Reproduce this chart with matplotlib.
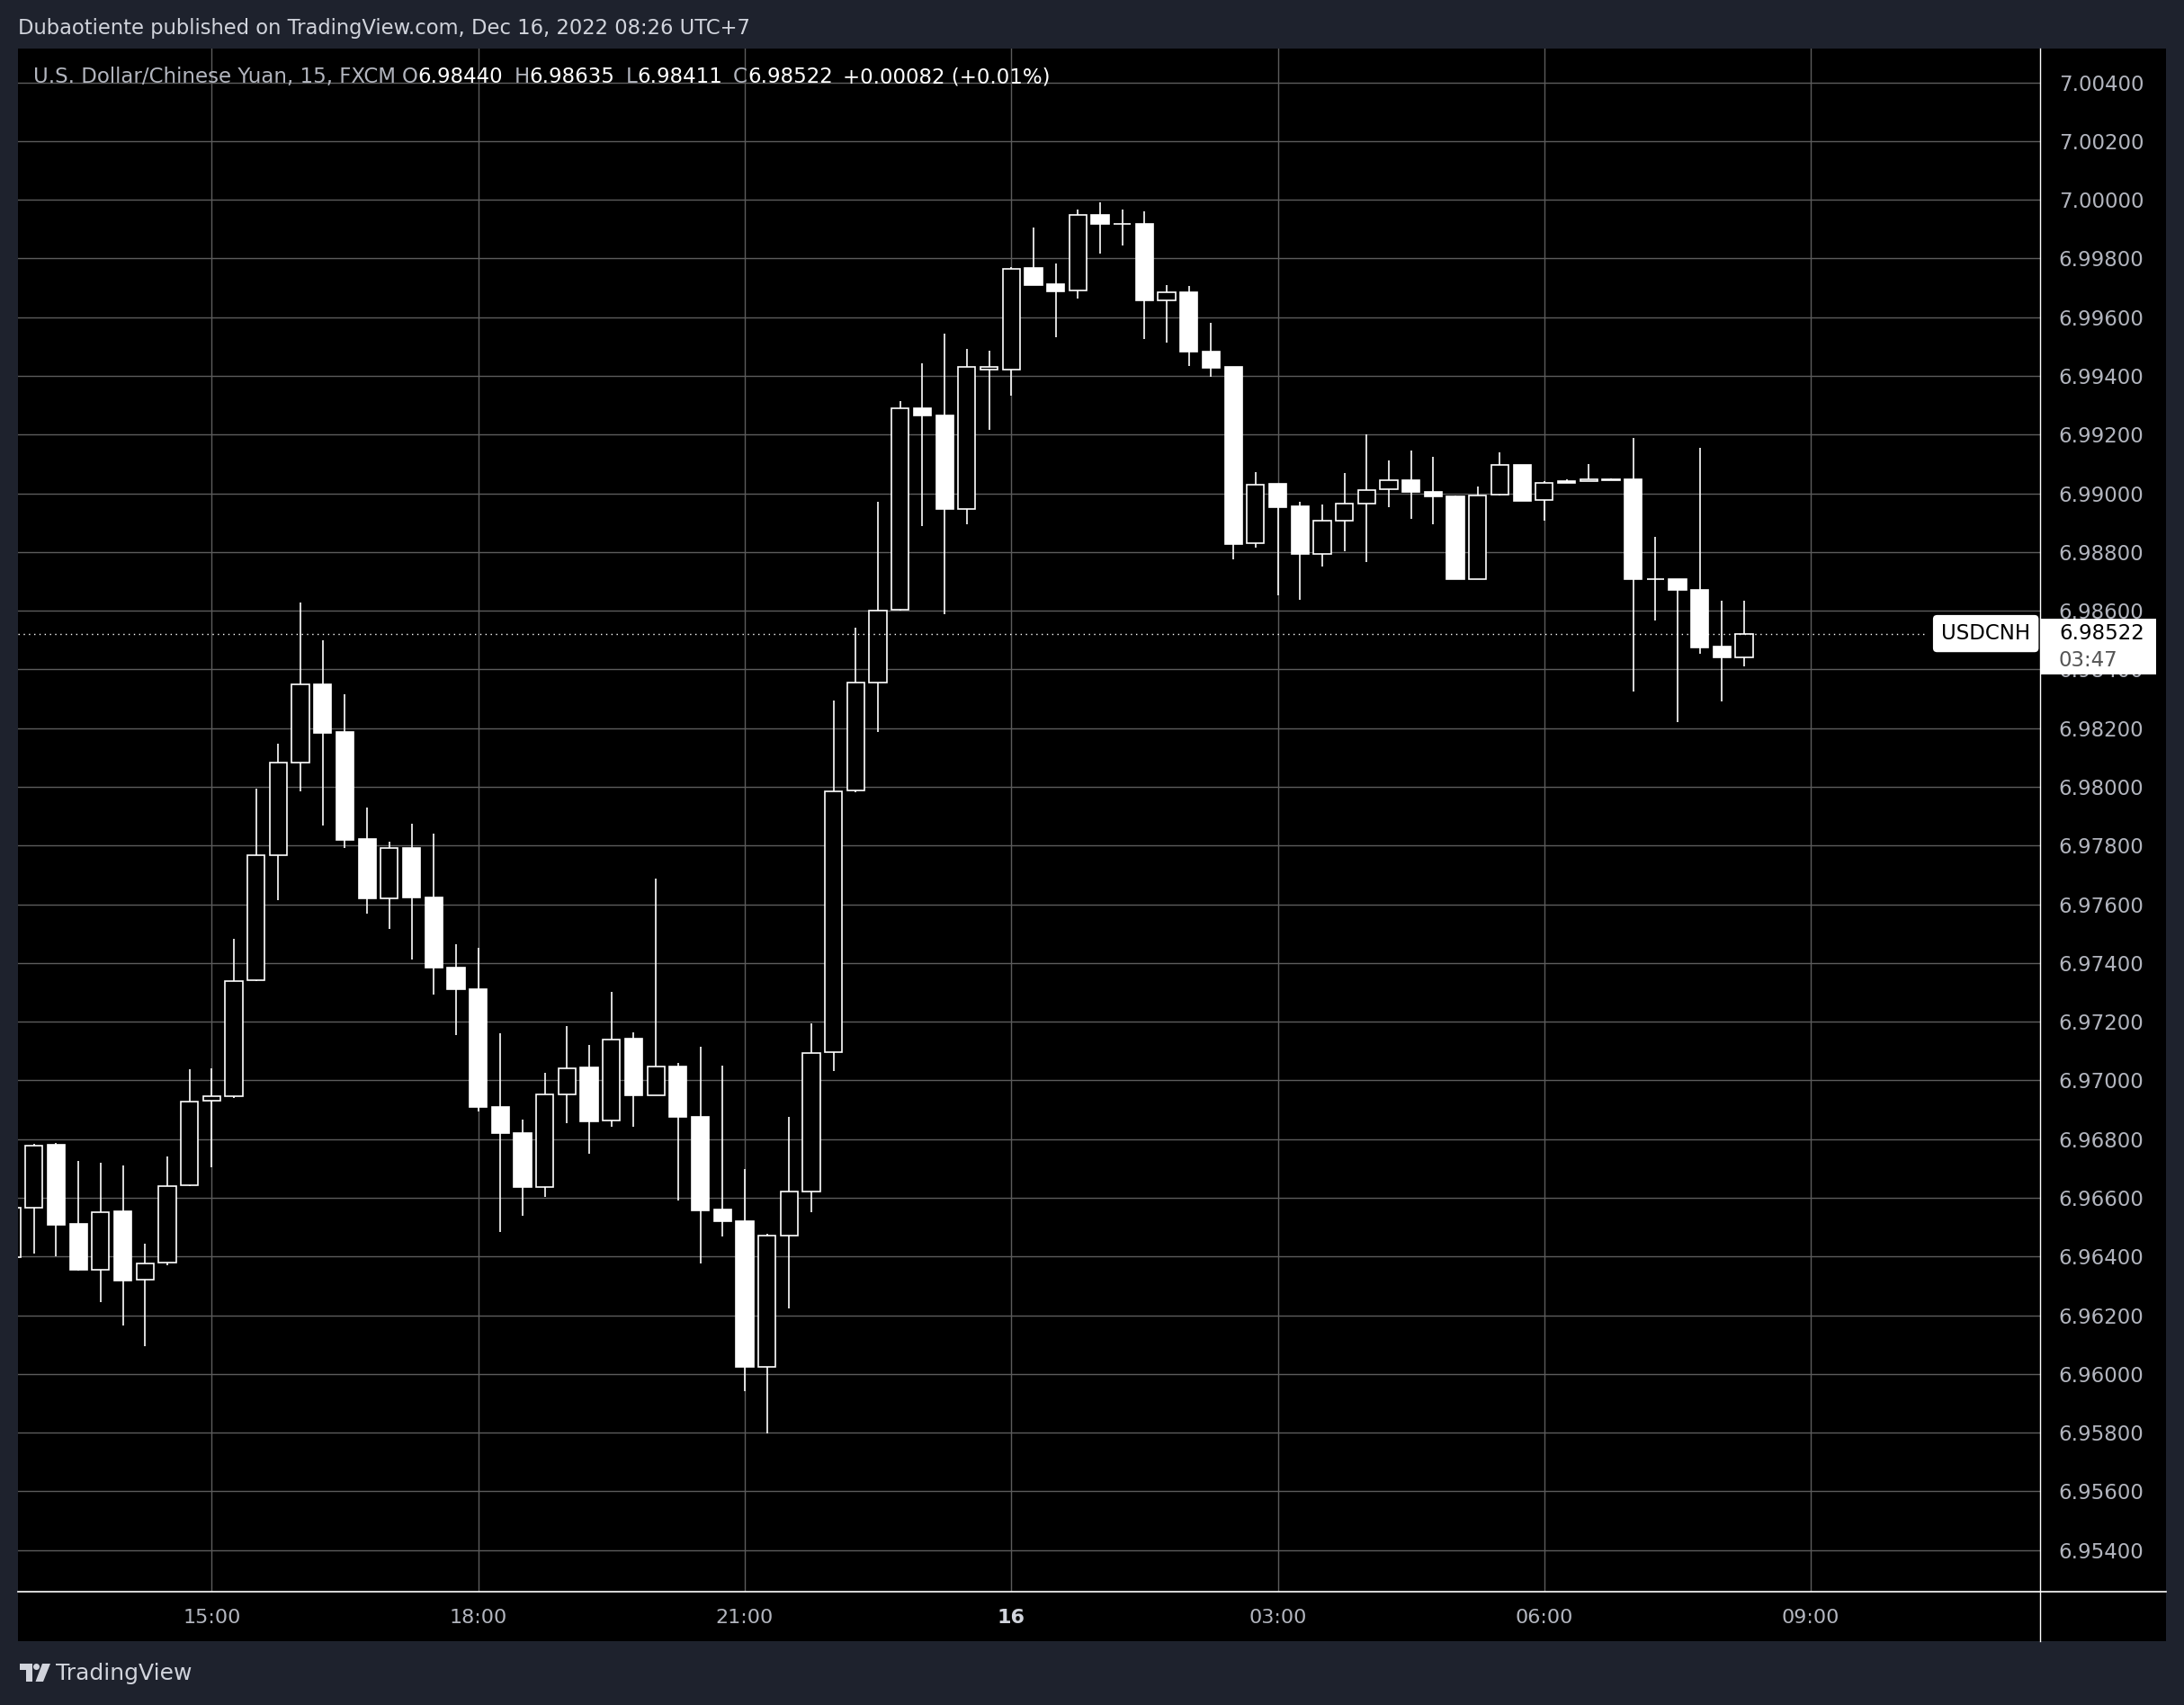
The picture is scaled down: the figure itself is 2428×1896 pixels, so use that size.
import matplotlib
matplotlib.use("Agg")
import matplotlib.pyplot as plt
import matplotlib.patches as patches
import matplotlib.transforms as mtransforms
import matplotlib.dates as mdates
import numpy as np
import pandas as pd

# USDCNH 15 min candles, Dec 15 12:45 -> Dec 16 08:15 (UTC+7)
times = pd.date_range("2022-12-15 12:45", periods=79, freq="15min")

opens = [6.96398,
         6.96565, 6.96780, 6.96511, 6.96356,
         6.96553, 6.96320, 6.96378, 6.96643,
         6.96931, 6.96945, 6.97340, 6.97766,
         6.98082, 6.98350, 6.98187, 6.97822,
         6.97620, 6.97790, 6.97622, 6.97385,
         6.97312, 6.96910, 6.96821, 6.96638,
         6.96953, 6.97043, 6.96862, 6.97143,
         6.96950, 6.97048, 6.96877, 6.96560,
         6.96521, 6.96024, 6.96472, 6.96621,
         6.97097, 6.97988, 6.98355, 6.98602,
         6.99289, 6.99264, 6.98947, 6.99420,
         6.99420, 6.99766, 6.99711, 6.99692,
         6.99949, 6.99917, 6.99918, 6.99658,
         6.99686, 6.99484, 6.99429, 6.98830,
         6.99031, 6.98955, 6.98794, 6.98907,
         6.98966, 6.99014, 6.99045, 6.99005,
         6.98990, 6.98709, 6.98994, 6.99098,
         6.98976, 6.99042, 6.99042, 6.99049,
         6.99049, 6.98707, 6.98709, 6.98672,
         6.98477, 6.98440]

highs = [6.96575,
         6.96783, 6.96786, 6.96725, 6.96719,
         6.96711, 6.96444, 6.96740, 6.97037,
         6.97040, 6.97483, 6.97993, 6.98146,
         6.98627, 6.98500, 6.98315, 6.97930,
         6.97813, 6.97875, 6.97842, 6.97465,
         6.97453, 6.97161, 6.96866, 6.97025,
         6.97184, 6.97122, 6.97301, 6.97163,
         6.97686, 6.97060, 6.97116, 6.97049,
         6.96699, 6.96478, 6.96875, 6.97193,
         6.98294, 6.98543, 6.98972, 6.99315,
         6.99443, 6.99544, 6.99492, 6.99485,
         6.99772, 6.99904, 6.99782, 6.99968,
         6.99990, 6.99968, 6.99959, 6.99708,
         6.99705, 6.99582, 6.99431, 6.99071,
         6.99033, 6.98970, 6.98961, 6.99069,
         6.99200, 6.99112, 6.99146, 6.99124,
         6.98992, 6.99024, 6.99138, 6.99098,
         6.99042, 6.99049, 6.99101, 6.99051,
         6.99190, 6.98850, 6.98709, 6.99156,
         6.98633, 6.98635]

lows = [6.96390,
        6.96410, 6.96402, 6.96352, 6.96245,
        6.96166, 6.96095, 6.96370, 6.96640,
        6.96704, 6.96940, 6.97338, 6.97614,
        6.97986, 6.97867, 6.97792, 6.97568,
        6.97516, 6.97412, 6.97292, 6.97155,
        6.96894, 6.96484, 6.96538, 6.96602,
        6.96855, 6.96751, 6.96842, 6.96842,
        6.96948, 6.96590, 6.96377, 6.96468,
        6.95940, 6.95798, 6.96222, 6.96550,
        6.97033, 6.97982, 6.98187, 6.98600,
        6.98887, 6.98588, 6.98894, 6.99216,
        6.99333, 6.99709, 6.99532, 6.99663,
        6.99816, 6.99844, 6.99526, 6.99513,
        6.99435, 6.99398, 6.98776, 6.98815,
        6.98651, 6.98638, 6.98751, 6.98802,
        6.98765, 6.98952, 6.98912, 6.98894,
        6.98707, 6.98707, 6.98992, 6.98973,
        6.98907, 6.99035, 6.99042, 6.99045,
        6.98324, 6.98566, 6.98220, 6.98453,
        6.98291, 6.98411]

closes = [6.96565,
          6.96779, 6.96509, 6.96356, 6.96552,
          6.96319, 6.96377, 6.96641, 6.96929,
          6.96945, 6.97337, 6.97766, 6.98082,
          6.98350, 6.98184, 6.97820, 6.97620,
          6.97790, 6.97622, 6.97384, 6.97311,
          6.96910, 6.96821, 6.96637, 6.96952,
          6.97040, 6.96860, 6.97140, 6.96949,
          6.97046, 6.96876, 6.96557, 6.96520,
          6.96023, 6.96471, 6.96620, 6.97094,
          6.97985, 6.98354, 6.98601, 6.99289,
          6.99264, 6.98946, 6.99429, 6.99431,
          6.99765, 6.99709, 6.99688, 6.99948,
          6.99917, 6.99919, 6.99657, 6.99685,
          6.99483, 6.99428, 6.98828, 6.99030,
          6.98953, 6.98792, 6.98908, 6.98964,
          6.99012, 6.99044, 6.99004, 6.98990,
          6.98707, 6.98992, 6.99096, 6.98973,
          6.99035, 6.99035, 6.99049, 6.99046,
          6.98707, 6.98708, 6.98670, 6.98474,
          6.98440, 6.98522]

tick_times = ["2022-12-15 15:00", "2022-12-15 18:00", "2022-12-15 21:00",
              "2022-12-16 00:00", "2022-12-16 03:00", "2022-12-16 06:00",
              "2022-12-16 09:00"]
tick_labels = ["15:00", "18:00", "21:00", "16", "03:00", "06:00", "09:00"]
price_ticks = np.arange(6.954, 7.0045, 0.002)

BG = "#1e222d"
TXT = "#b2b5be"
W, H = 2428, 1896


def frac(x0, y0, x1, y1):
    return [x0 / W, 1 - y1 / H, (x1 - x0) / W, (y1 - y0) / H]


fig = plt.figure(figsize=(W / 100, H / 100), dpi=100, facecolor=BG)

# background / decoration layer in pixel units
back = fig.add_axes(frac(0, 0, W, H), zorder=0)
back.set_xlim(0, W)
back.set_ylim(H, 0)
back.axis("off")
back.add_patch(patches.Rectangle((20, 54), 2388, 1771, fc="black", ec="none"))
back.text(20, 31, "Dubaotiente published on TradingView.com, Dec 16, 2022 08:26 UTC+7",
          color="#d1d4dc", fontsize=16.3, va="center", ha="left")

# TradingView logo (rough)
logo_c = "#d1d4dc"
back.add_patch(patches.Polygon([(22, 1850), (36, 1850), (36, 1870), (29, 1870),
                                (29, 1857), (22, 1857)], fc=logo_c, ec="none"))
back.add_patch(patches.Circle((40.5, 1853.5), 3.5, fc=logo_c, ec="none"))
back.add_patch(patches.Polygon([(47, 1850), (56, 1850), (48, 1870), (39.5, 1870)],
                               fc=logo_c, ec="none"))
back.text(62, 1861, "TradingView", color=logo_c, fontsize=18, va="center", ha="left")

# main price axes
ax = fig.add_axes(frac(20, 54, 2268, 1770), zorder=1)
ax.set_facecolor("black")
for s in ax.spines.values():
    s.set_visible(False)

x = mdates.date2num(times)
step = 1 / 96
t0 = mdates.date2num(pd.Timestamp("2022-12-15 15:00"))
ax.set_xlim(t0 - 8.72 * step, t0 + 82.32 * step)
ax.set_ylim(6.95258, 7.00515)

o = np.array(opens)
c = np.array(closes)
up = c >= o
bottoms = np.minimum(o, c)
heights = np.maximum(np.abs(c - o), 0.00002)
faces = np.where(up, "black", "white")

ax.vlines(x, lows, highs, color="white", lw=1.2, zorder=2)
ax.bar(x, heights, bottom=bottoms, width=0.78 * step, color=faces,
       edgecolor="white", linewidth=1.2, zorder=3)

# grid + ticks
ax.set_axisbelow(True)
ax.set_yticks(price_ticks)
ax.set_yticklabels([f"{p:.5f}" for p in price_ticks])
ax.yaxis.tick_right()
ax.set_xticks(mdates.date2num(pd.to_datetime(tick_times)))
ax.set_xticklabels(tick_labels)
ax.grid(True, color="#5c5c5c", lw=1.0)
ax.tick_params(axis="y", length=0, pad=15, labelsize=16.5, labelcolor=TXT)
ax.tick_params(axis="x", length=0, pad=14, labelsize=16, labelcolor=TXT)
for lbl in ax.get_xticklabels():
    if lbl.get_text() == "16":
        lbl.set_fontweight("bold")
        lbl.set_color("#d1d4dc")

# last price line and labels
last = closes[-1]
ax.axhline(last, xmax=(2141 - 20) / 2248, color="white", lw=1.0,
           ls=(0, (1, 3.2)), zorder=4)
blend = mtransforms.blended_transform_factory(ax.transAxes, ax.transData)
ax.text(0.9952, last, "USDCNH", transform=blend, ha="right", va="center",
        fontsize=16.5, color="black", zorder=11,
        bbox=dict(boxstyle="round,pad=0.4,rounding_size=0.2", fc="white", ec="none"))
ax.add_patch(patches.Rectangle((1.0, last - 0.00138), 0.0574, 0.0019,
                               transform=blend, fc="white", ec="none",
                               clip_on=False, zorder=10))
ax.text(1.0093, last, f"{last:.5f}", transform=blend, ha="left", va="center",
        fontsize=16.5, color="black", zorder=11, clip_on=False)
ax.text(1.0093, last - 0.00093, "03:47", transform=blend, ha="left", va="center",
        fontsize=16.5, color="#555555", zorder=11, clip_on=False)

# overlay layer: separators + legend header
top = fig.add_axes(frac(0, 0, W, H), zorder=3)
top.set_xlim(0, W)
top.set_ylim(H, 0)
top.axis("off")
top.patch.set_alpha(0)
top.plot([2268, 2268], [54, 1825], color="white", lw=1.0)
top.plot([20, 2408], [1770, 1770], color="white", lw=1.2)

chg = closes[-1] - closes[-2]
pieces = [("U.S. Dollar/Chinese Yuan, 15, FXCM", TXT, 7),
          ("O", TXT, 0), (f"{opens[-1]:.5f}", "white", 12),
          ("H", TXT, 0), (f"{highs[-1]:.5f}", "white", 12),
          ("L", TXT, 0), (f"{lows[-1]:.5f}", "white", 12),
          ("C", TXT, 0), (f"{closes[-1]:.5f}", "white", 11),
          (f"{chg:+.5f} ({chg / closes[-2] * 100:+.2f}%)", "white", 0)]
renderer = fig.canvas.get_renderer()
xpos = 37
for txt, col, gap in pieces:
    t = top.text(xpos, 92, txt, color=col, fontsize=16.5, ha="left", va="baseline")
    xpos += t.get_window_extent(renderer).width + gap

fig.savefig("out.png", dpi=100, facecolor=BG)
